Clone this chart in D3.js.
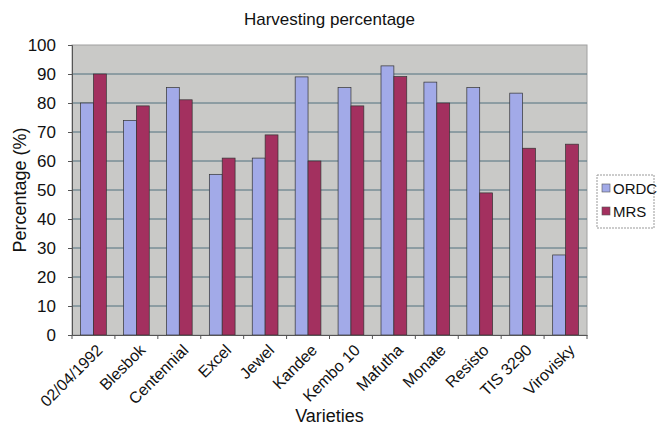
<!DOCTYPE html>
<html>
<head>
<meta charset="utf-8">
<script src="https://cdn.jsdelivr.net/npm/d3@7"></script>
<style>
  body { margin: 0; background: #fff; }
  text { font-family: "Liberation Sans", Arial, sans-serif; fill: #111; }
</style>
</head>
<body>
<div id="chart"></div>
<script>
// 数据
const varieties = ['02/04/1992', 'Blesbok', 'Centennial', 'Excel', 'Jewel', 'Kandee',
  'Kembo 10', 'Mafutha', 'Monate', 'Resisto', 'TIS 3290', 'Virovisky'];
const ordc = [80, 74, 85.3, 55.4, 61, 89, 85.3, 92.8, 87.2, 85.3, 83.4, 27.6];
const mrs = [90, 79, 81.1, 61, 69, 60, 79, 89.1, 80, 49, 64.4, 65.8];
const seriesNames = ['ORDC', 'MRS'];
const seriesColors = ['#a2aae8', '#a3305f'];
const yTicks = [0, 10, 20, 30, 40, 50, 60, 70, 80, 90, 100];

const width = 662, height = 428;
const margin = {top: 45, right: 75, bottom: 93, left: 72};
const innerW = width - margin.left - margin.right;
const innerH = height - margin.top - margin.bottom;

const svg = d3.select('#chart').append('svg')
  .attr('width', width)
  .attr('height', height);

const g = svg.append('g')
  .attr('transform', `translate(${margin.left},${margin.top})`);

// 比例尺
const x0 = d3.scaleBand().domain(varieties).range([0, innerW]).padding(0);
const x1 = d3.scaleBand().domain(seriesNames)
  .range([x0.bandwidth() * 0.2, x0.bandwidth() * 0.8]).padding(0);
const y = d3.scaleLinear().domain([0, 100]).range([innerH, 0]);

// 绘图区背景
g.append('rect')
  .attr('width', innerW).attr('height', innerH)
  .attr('fill', '#c9c9c7')
  .attr('stroke', '#a0a0a0');

// 网格线
g.append('g')
  .selectAll('line')
  .data(yTicks.filter(d => d > 0 && d < 100))
  .join('line')
  .attr('x1', 0).attr('x2', innerW)
  .attr('y1', d => y(d)).attr('y2', d => y(d))
  .attr('stroke', '#50707e')
  .attr('stroke-width', 1);

// 条形
const rows = varieties.map((v, i) => ({v, vals: [ordc[i], mrs[i]]}));
g.append('g')
  .selectAll('g')
  .data(rows)
  .join('g')
  .attr('transform', d => `translate(${x0(d.v)},0)`)
  .selectAll('rect')
  .data(d => d.vals.map((val, k) => ({k, val})))
  .join('rect')
  .attr('x', d => x1(seriesNames[d.k]))
  .attr('width', x1.bandwidth())
  .attr('y', d => y(d.val))
  .attr('height', d => innerH - y(d.val))
  .attr('fill', d => seriesColors[d.k])
  .attr('stroke', '#333')
  .attr('stroke-width', 0.7);

// Y轴
const yAxis = g.append('g')
  .call(d3.axisLeft(y).tickValues(yTicks).tickSize(4).tickPadding(12));
yAxis.select('.domain').attr('stroke', '#555');
yAxis.selectAll('.tick line').attr('stroke', '#555');
yAxis.selectAll('text').attr('font-size', 17).attr('fill', '#111');

// X轴
const xAxis = g.append('g')
  .attr('transform', `translate(0,${innerH})`)
  .call(d3.axisBottom(x0).tickSize(0).tickSizeOuter(0));
xAxis.select('.domain').attr('stroke', '#555');
xAxis.selectAll('.tick text')
  .attr('font-size', 16)
  .attr('fill', '#111')
  .attr('text-anchor', 'end')
  .attr('dy', 0)
  .attr('transform', 'translate(8,14) rotate(-45)');
// 类别分隔刻度
g.append('g')
  .selectAll('line')
  .data(varieties.concat(['_end']))
  .join('line')
  .attr('x1', (d, i) => i * x0.step()).attr('x2', (d, i) => i * x0.step())
  .attr('y1', innerH).attr('y2', innerH + 4)
  .attr('stroke', '#555');

// 标题
svg.append('text')
  .attr('x', margin.left + innerW / 2).attr('y', 25)
  .attr('text-anchor', 'middle')
  .attr('font-size', 17)
  .text('Harvesting percentage');

svg.append('text')
  .attr('x', margin.left + innerW / 2).attr('y', 422)
  .attr('text-anchor', 'middle')
  .attr('font-size', 18)
  .text('Varieties');

svg.append('text')
  .attr('transform', `translate(26,${margin.top + innerH / 2}) rotate(-90)`)
  .attr('text-anchor', 'middle')
  .attr('font-size', 18)
  .text('Percentage (%)');

// 图例
const legend = svg.append('g').attr('transform', 'translate(597,175)');
legend.append('rect')
  .attr('width', 57).attr('height', 53)
  .attr('fill', '#fff')
  .attr('stroke', '#999')
  .attr('stroke-dasharray', '2,1');
seriesNames.forEach((name, i) => {
  const row = legend.append('g').attr('transform', `translate(5,${13 + i * 23})`);
  row.append('rect')
    .attr('width', 8).attr('height', 8).attr('y', -4)
    .attr('fill', seriesColors[i])
    .attr('stroke', '#555').attr('stroke-width', 0.6);
  row.append('text')
    .attr('x', 11).attr('y', 5.5)
    .attr('font-size', 15)
    .text(name);
});
</script>
</body>
</html>
